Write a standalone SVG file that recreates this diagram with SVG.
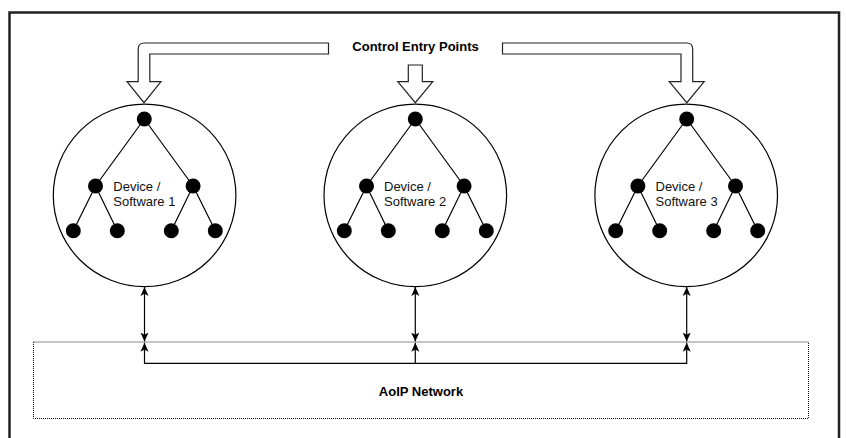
<svg xmlns="http://www.w3.org/2000/svg" width="846" height="438" viewBox="0 0 846 438">
<defs>
<style>
.frame{fill:none;stroke:#222;stroke-width:2.5}
.block{fill:#fff;stroke:#222;stroke-width:1.2}
.circ{fill:#fff;stroke:#000;stroke-width:1.2}
.dot{fill:#000}
.edge{fill:none;stroke:#000;stroke-width:1.2}
.lbl{font-family:"Liberation Sans",Arial,sans-serif;font-size:13px;fill:#111}
.bold{font-family:"Liberation Sans",Arial,sans-serif;font-size:13px;font-weight:bold;fill:#000}
.net{fill:none;stroke:#111;stroke-width:1;stroke-dasharray:1 1}
.conn{fill:none;stroke:#000;stroke-width:1.2}
</style>
<marker id="arr" viewBox="0 0 10 10" refX="10" refY="5" markerWidth="9" markerHeight="9" markerUnits="userSpaceOnUse" orient="auto-start-reverse">
<path d="M0,0.5 L10,5 L0,9.5 L2.5,5 Z" fill="#000"/>
</marker>
<g id="tree">
<path class="edge" d="M0,-76.5 L-48.8,-9.5 M0,-76.5 L48.8,-9.5 M-48.8,-9.5 L-71,35.3 M-48.8,-9.5 L-27,35.3 M48.8,-9.5 L27,35.3 M48.8,-9.5 L71,35.3"/>
<circle class="dot" cx="0" cy="-76.5" r="7.5"/>
<circle class="dot" cx="-48.8" cy="-9.5" r="7.5"/>
<circle class="dot" cx="48.8" cy="-9.5" r="7.5"/>
<circle class="dot" cx="-71" cy="35.3" r="7.5"/>
<circle class="dot" cx="-27" cy="35.3" r="7.5"/>
<circle class="dot" cx="27" cy="35.3" r="7.5"/>
<circle class="dot" cx="71" cy="35.3" r="7.5"/>
</g>
</defs>
<rect x="0" y="0" width="846" height="438" fill="#fff"/>
<rect class="frame" x="9.5" y="12.5" width="829.5" height="440"/>

<g id="network">
<rect class="net" x="33.5" y="342" width="775" height="76.5"/>
<text class="bold" x="421" y="395.7" text-anchor="middle">AoIP Network</text>
</g>

<g id="entry-points">
<path class="block" d="M328.5,43 H144.2 Q138.2,43 138.2,49 V81.7 H127 L144,102.7 L161,81.7 H149.8 V54 H328.5 Z"/>
<path class="block" d="M408.3,65 H422.3 V81.7 H432.8 L415.3,102.7 L397.8,81.7 H408.3 Z"/>
<path class="block" d="M502.5,43 H686.7 Q692.7,43 692.7,49 V81.7 H704.2 L686.8,102.7 L669.3,81.7 H681 V54 H502.5 Z"/>
<text class="bold" x="415.5" y="51" text-anchor="middle">Control Entry Points</text>
</g>

<g id="device1">
<circle class="circ" cx="144.6" cy="195.4" r="91.3"/>
<use href="#tree" x="144.3" y="195.5"/>
<text class="lbl" x="113.3" y="190.7">Device /</text>
<text class="lbl" x="113.3" y="206">Software 1</text>
</g>

<g id="device2">
<circle class="circ" cx="415.3" cy="195.4" r="91.3"/>
<use href="#tree" x="415.3" y="195.5"/>
<text class="lbl" x="384" y="190.7">Device /</text>
<text class="lbl" x="384" y="206">Software 2</text>
</g>

<g id="device3">
<circle class="circ" cx="686.2" cy="195.4" r="91.3"/>
<use href="#tree" x="686.7" y="195.5"/>
<text class="lbl" x="655.5" y="190.7">Device /</text>
<text class="lbl" x="655.5" y="206">Software 3</text>
</g>

<g id="connectors">
<path class="conn" d="M144.5,287 V341.5" marker-start="url(#arr)" marker-end="url(#arr)"/>
<path class="conn" d="M415.3,287 V341.5" marker-start="url(#arr)" marker-end="url(#arr)"/>
<path class="conn" d="M686.7,287 V341.5" marker-start="url(#arr)" marker-end="url(#arr)"/>
<path class="conn" d="M144.5,342.7 V363.3 H686.7 V342.7" marker-start="url(#arr)" marker-end="url(#arr)"/>
<path class="conn" d="M415.3,363.3 V342.7" marker-end="url(#arr)"/>
</g>
</svg>
